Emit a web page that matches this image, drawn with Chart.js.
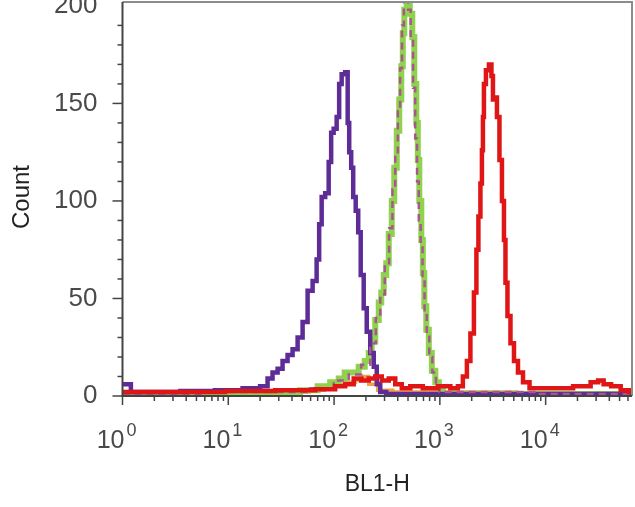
<!DOCTYPE html>
<html lang="en">
<head>
  <meta charset="UTF-8">
  <title>BL1-H histogram</title>
  <script src="https://cdn.jsdelivr.net/npm/chart.js"></script>
  <style>
    html, body {
      margin: 0;
      padding: 0;
      background: #fff;
    }
    #hist {
      display: block;
    }
  </style>
</head>
<body>
  <canvas id="hist" width="635" height="507"></canvas>

  <script>
    // BL1-H bin positions and counts
    const purpleX = [1, 1.2, 1.2, 2.3, 5.4, 10.4, 17.9, 22.3, 24.8, 27.7, 30.9, 34.4, 38.4, 42.8, 47.8, 53.2, 59.4, 66.2, 70.7, 73.9,
                     78.9, 86.1, 91.9, 95.9, 102.4, 109.3, 114.2, 121.9, 133.0, 136.0, 142.1, 148.4, 155.0, 165.5, 172.9, 184.5, 197.0, 210.4, 229.5, 245.1,
                     261.6, 285.4, 339.9, 1257, 11120, 65536];
    const purpleY = [6, 6, 2, 2, 2.5, 3, 4, 5, 9, 12, 14, 18, 21, 24, 30, 38, 54, 59, 70, 88,
                     102, 104, 120, 135, 137, 143, 160, 165, 166, 140, 125, 117, 102, 95, 84, 62, 45, 33, 22, 15,
                     6, 2, 1, 1, 1, 1];

    const greenX = [1, 16.1, 38.4, 59.4, 82.4, 102.4, 119.4, 133.0, 158.4, 184.5, 205.8, 219.8, 234.6, 255.9, 273.3, 285.4, 304.8, 318.2, 339.9, 362.8,
                    379.0, 404.6, 422.7, 441.6, 451.3, 471.4, 503.0, 537.0, 561.0, 586.1, 612.3, 626.0, 653.6, 683.0, 698.1, 728.9, 761.3, 812.9, 867.8, 946.8,
                    1011, 1127, 65536];
    const greenY = [1, 1, 2, 3, 5, 7, 9, 12, 12, 15, 18, 22, 28, 39, 48, 53, 62, 68, 83, 100,
                    117, 136, 152, 169, 186, 198, 200, 196, 184, 160, 140, 121, 100, 80, 63, 46, 34, 22, 13, 7,
                    3, 1, 1];

    const dashX = [1, 38.4, 82.4, 119.4, 158.4, 205.8, 234.6, 262, 285.4, 318.2, 345, 368, 390, 412, 430, 448, 466, 490, 515, 545,
                   572, 598, 620, 645, 672, 700, 735, 770, 820, 880, 960, 1030, 65536];
    const dashY = [1, 2, 4, 8, 11, 16, 27, 40, 52, 68, 86, 106, 124, 146, 168, 190, 205, 205, 198, 182,
                   158, 132, 110, 90, 78, 60, 44, 32, 20, 12, 6, 2, 1];

    const redX = [1, 5.4, 16.1, 47.8, 91.9, 114.2, 142.1, 165.5, 197, 229.5, 261.6, 304.8, 354.8, 404.6, 471.4, 586.1, 812.9, 1127, 1403, 1563,
                  1743, 1862, 2032, 2168, 2265, 2366, 2472, 2526, 2582, 2639, 2818, 3007, 3143, 3211, 3354, 3581, 3740, 3993, 4082, 4264,
                  4453, 4861, 5188, 5785, 6457, 7684, 13840, 23880, 29690, 33100, 37740, 45920, 57140, 65536];
    const redY = [2, 2, 2.5, 3, 3.5, 5, 6, 9, 8, 9, 10, 8, 9, 6, 4, 5, 4, 5, 4, 5,
                  10, 18, 32, 53, 75, 92, 109, 126, 143, 160, 167, 170, 164, 152, 153, 143, 121, 100, 80, 58,
                  41, 27, 18, 12, 7, 4, 4, 5, 7, 8, 6, 5, 3, 2];

    const orangeX = [1, 5.4, 47.8, 70.7, 91.9, 114.2, 142.1, 176.7, 205.8, 219.8, 304.8, 422.7, 65536];
    const orangeY = [1, 1, 2, 3, 4, 6, 7, 8, 10, 6, 3, 2, 1];

    const xMajorTicks = [1, 10, 100, 1000, 10000];
    const xTickExponents = ['0', '1', '2', '3', '4'];
    const yMajorTicks = [0, 50, 100, 150, 200];
    const yTickLabels = ['0', '50', '100', '150', '200'];

    const toPoints = (xs, ys) => xs.map((x, i) => ({ x: x, y: ys[i] }));

    // axis box, tick marks and all the axis text are drawn here
    const axisDecor = {
      id: 'axisDecor',
      afterDraw(chart) {
        const { ctx, chartArea: a, scales } = chart;
        const xs = scales.x, ys = scales.y;
        const seg = (x1, y1, x2, y2) => {
          ctx.beginPath();
          ctx.moveTo(x1, y1);
          ctx.lineTo(x2, y2);
          ctx.stroke();
        };
        ctx.save();

        // top and right frame
        ctx.strokeStyle = '#8c8c8c';
        ctx.lineWidth = 2;
        ctx.beginPath();
        ctx.moveTo(a.left, a.top);
        ctx.lineTo(a.right, a.top);
        ctx.lineTo(a.right, a.bottom);
        ctx.stroke();

        // axis lines
        ctx.strokeStyle = '#444';
        ctx.lineWidth = 2;
        ctx.beginPath();
        ctx.moveTo(a.left, a.top);
        ctx.lineTo(a.left, a.bottom);
        ctx.lineTo(a.right, a.bottom);
        ctx.stroke();

        // y ticks, every 10 counts, long ones on the labelled values
        ctx.lineWidth = 1.5;
        ys.ticks.forEach(t => {
          if (t.value % 10 !== 0) return;
          const py = ys.getPixelForValue(t.value);
          const len = yMajorTicks.includes(t.value) ? 10 : 5;
          seg(a.left - len, py, a.left, py);
        });

        // x ticks, decades long and 2..9 short
        xMajorTicks.forEach(v => {
          const px = xs.getPixelForValue(v);
          seg(px, a.bottom, px, a.bottom + 9);
          for (let m = 2; m <= 9; m++) {
            const mv = v * m;
            if (mv > xs.max) break;
            const mx = xs.getPixelForValue(mv);
            seg(mx, a.bottom, mx, a.bottom + 5);
          }
        });

        // y labels
        ctx.fillStyle = '#4a4a4a';
        ctx.font = '26px "Liberation Sans", Arial, sans-serif';
        ctx.textAlign = 'right';
        ctx.textBaseline = 'middle';
        yMajorTicks.forEach((v, i) => {
          ctx.fillText(yTickLabels[i], a.left - 25, ys.getPixelForValue(v));
        });

        // x labels as 10 with a raised exponent
        xMajorTicks.forEach((v, i) => {
          const px = xs.getPixelForValue(v);
          ctx.font = '25px "Liberation Sans", Arial, sans-serif';
          ctx.textAlign = 'right';
          ctx.fillText('10', px + 2, a.bottom + 45);
          ctx.font = '18px "Liberation Sans", Arial, sans-serif';
          ctx.textAlign = 'left';
          ctx.fillText(xTickExponents[i], px + 4, a.bottom + 35);
        });

        // axis titles
        ctx.fillStyle = '#222';
        ctx.font = '23px "Liberation Sans", Arial, sans-serif';
        ctx.textAlign = 'center';
        ctx.fillText('BL1-H', (a.left + a.right) / 2, a.bottom + 89);
        ctx.font = '24px "Liberation Sans", Arial, sans-serif';
        ctx.translate(22, 197);
        ctx.rotate(-Math.PI / 2);
        ctx.fillText('Count', 0, 0);

        ctx.restore();
      }
    };

    const lineSet = (label, xs, ys, color, extra) => Object.assign({
      label: label,
      data: toPoints(xs, ys),
      borderColor: color,
      borderWidth: 4.5,
      pointRadius: 0,
      stepped: 'middle',
      fill: false
    }, extra || {});

    const chart = new Chart(document.getElementById('hist'), {
      type: 'line',
      data: {
        datasets: [
          lineSet('red', redX, redY, '#e01616'),
          lineSet('dashed', dashX, dashY, '#a8578e', { borderWidth: 2.5, borderDash: [7, 5] }),
          lineSet('purple', purpleX, purpleY, '#5d2c96'),
          lineSet('green', greenX, greenY, '#8ed24e', { borderWidth: 6 }),
          lineSet('orange', orangeX, orangeY, '#f0a048', { borderWidth: 3.5 })
        ]
      },
      options: {
        responsive: false,
        animation: false,
        devicePixelRatio: 1,
        layout: { padding: { top: 2, right: 3, left: 0, bottom: 0 } },
        plugins: {
          legend: { display: false },
          tooltip: { enabled: false }
        },
        scales: {
          x: {
            type: 'logarithmic',
            min: 1,
            max: 65536,
            grid: { display: false },
            border: { display: false },
            ticks: { display: false },
            afterFit(scale) { scale.height = 111; }
          },
          y: {
            min: 0,
            max: 202,
            grid: { display: false },
            border: { display: false },
            ticks: { display: false, stepSize: 10 },
            afterFit(scale) { scale.width = 122.5; }
          }
        }
      },
      plugins: [axisDecor]
    });
  </script>
</body>
</html>
